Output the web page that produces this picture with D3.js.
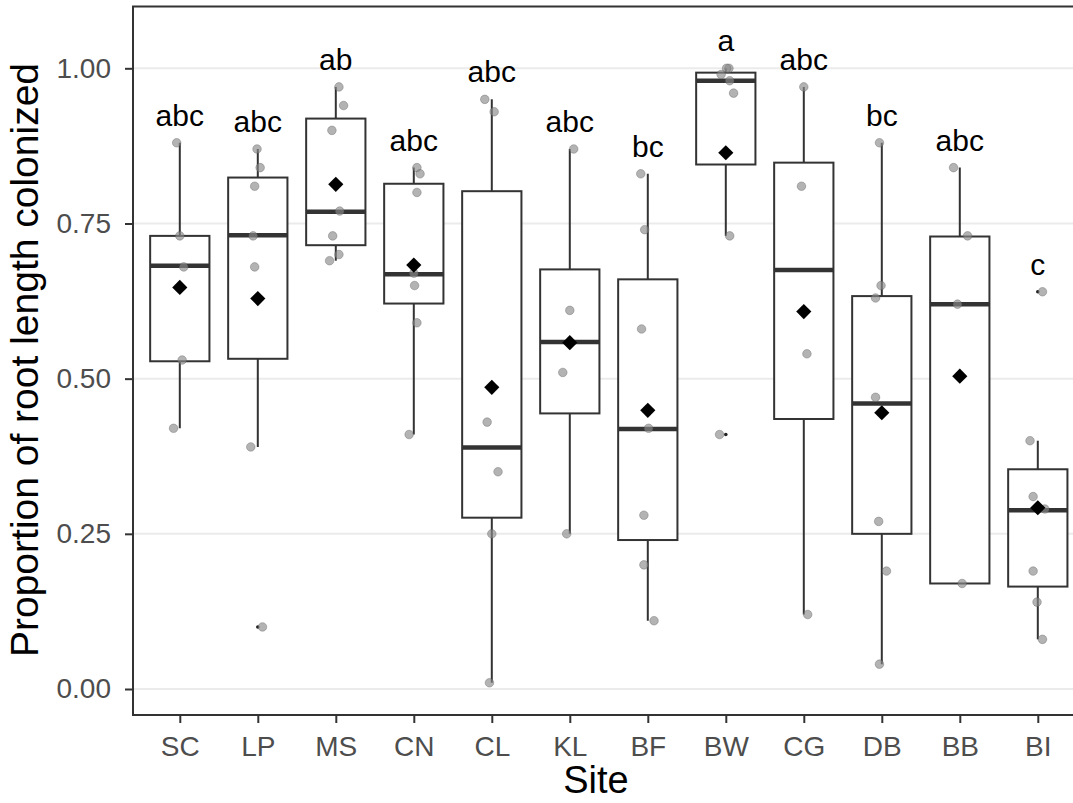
<!DOCTYPE html>
<html>
<head>
<meta charset="utf-8">
<script src="https://cdn.jsdelivr.net/npm/d3@7"></script>
<style>
  body { margin: 0; background: #fff; }
  svg { display: block; font-family: "Liberation Sans", Arial, sans-serif; }
  .tick text { fill: #4d4d4d; }
</style>
</head>
<body>
<div id="chart"></div>
<script>
// site order along the x axis
var sites = ["SC", "LP", "MS", "CN", "CL", "KL", "BF", "BW", "CG", "DB", "BB", "BI"];
var letters = ["abc", "abc", "ab", "abc", "abc", "abc", "bc", "a", "abc", "bc", "abc", "c"];

// box statistics
var q1     = [0.528, 0.532, 0.715, 0.621, 0.276, 0.444, 0.240, 0.845, 0.435, 0.250, 0.170, 0.165];
var median = [0.682, 0.731, 0.769, 0.668, 0.389, 0.559, 0.419, 0.980, 0.675, 0.460, 0.620, 0.288];
var q3     = [0.730, 0.824, 0.919, 0.814, 0.802, 0.676, 0.660, 0.993, 0.848, 0.633, 0.729, 0.354];
var whiskLo = [0.42, 0.39, 0.69, 0.41, 0.01, 0.25, 0.11, 0.73, 0.12, 0.04, 0.17, 0.08];
var whiskHi = [0.88, 0.87, 0.97, 0.84, 0.95, 0.87, 0.83, 1.00, 0.97, 0.88, 0.84, 0.40];
var means  = [0.647, 0.629, 0.813, 0.683, 0.486, 0.558, 0.449, 0.864, 0.608, 0.445, 0.504, 0.292];
var outliers = [[], [0.10], [], [], [], [], [], [0.41], [], [], [], [0.64]];

// raw observations per site
var obs = [
  [0.88, 0.73, 0.68, 0.53, 0.42],
  [0.87, 0.84, 0.81, 0.73, 0.68, 0.39, 0.10],
  [0.97, 0.94, 0.90, 0.77, 0.73, 0.70, 0.69],
  [0.84, 0.83, 0.80, 0.67, 0.65, 0.59, 0.41],
  [0.95, 0.93, 0.43, 0.35, 0.25, 0.01],
  [0.87, 0.61, 0.51, 0.25],
  [0.83, 0.74, 0.58, 0.42, 0.28, 0.20, 0.11],
  [1.00, 1.00, 0.99, 0.98, 0.96, 0.73, 0.41],
  [0.97, 0.81, 0.54, 0.12],
  [0.88, 0.65, 0.63, 0.47, 0.27, 0.19, 0.04],
  [0.84, 0.73, 0.62, 0.17],
  [0.64, 0.40, 0.31, 0.29, 0.19, 0.14, 0.08]
];
// horizontal jitter of each observation, in units of one site step
var jitter = [
  [-0.04, 0.00, 0.05, 0.03, -0.08],
  [-0.01, 0.03, -0.04, -0.06, -0.04, -0.09, 0.06],
  [0.04, 0.10, -0.05, 0.05, -0.04, 0.04, -0.08],
  [0.04, 0.08, 0.04, 0.00, 0.01, 0.04, -0.06],
  [-0.09, 0.03, -0.06, 0.08, 0.00, -0.03],
  [0.05, 0.00, -0.09, -0.04],
  [-0.09, -0.04, -0.08, 0.01, -0.05, -0.05, 0.08],
  [0.04, 0.01, -0.06, 0.05, 0.10, 0.05, -0.08],
  [0.00, -0.03, 0.04, 0.05],
  [-0.03, -0.01, -0.08, -0.08, -0.04, 0.06, -0.03],
  [-0.08, 0.10, -0.03, 0.03],
  [0.06, -0.10, -0.06, 0.09, -0.06, -0.01, 0.06]
];

var yTicks = [0, 0.25, 0.5, 0.75, 1];

var width = 1073, height = 803;
var panel = {left: 133, top: 6.5, right: 1084.6, bottom: 715};

var svg = d3.select("#chart").append("svg")
    .attr("width", width)
    .attr("height", height);

svg.append("rect").attr("width", width).attr("height", height).attr("fill", "#fff");

var x = d3.scalePoint()
    .domain(sites)
    .range([panel.left, panel.right])
    .padding(0.6);
var step = x.step();

var y = d3.scaleLinear()
    .domain([0, 1])
    .range([689, 68.3]);

// grid lines
svg.append("g")
    .selectAll("line")
    .data(yTicks)
    .enter().append("line")
    .attr("x1", panel.left).attr("x2", panel.right)
    .attr("y1", function(d) { return y(d); })
    .attr("y2", function(d) { return y(d); })
    .attr("stroke", "#ebebeb")
    .attr("stroke-width", 2);

var boxW = step * 0.76;
var boxes = svg.append("g").selectAll("g")
    .data(sites)
    .enter().append("g");

// whiskers
boxes.append("line")
    .attr("x1", function(d) { return x(d); })
    .attr("x2", function(d) { return x(d); })
    .attr("y1", function(d, i) { return y(whiskHi[i]); })
    .attr("y2", function(d, i) { return y(whiskLo[i]); })
    .attr("stroke", "#333")
    .attr("stroke-width", 2);

boxes.append("rect")
    .attr("x", function(d) { return x(d) - boxW / 2; })
    .attr("width", boxW)
    .attr("y", function(d, i) { return y(q3[i]); })
    .attr("height", function(d, i) { return y(q1[i]) - y(q3[i]); })
    .attr("fill", "#fff")
    .attr("stroke", "#333")
    .attr("stroke-width", 2);

boxes.append("line")
    .attr("x1", function(d) { return x(d) - boxW / 2; })
    .attr("x2", function(d) { return x(d) + boxW / 2; })
    .attr("y1", function(d, i) { return y(median[i]); })
    .attr("y2", function(d, i) { return y(median[i]); })
    .attr("stroke", "#333")
    .attr("stroke-width", 4.5);

// boxplot outliers (small, mostly hidden under the jittered points)
boxes.selectAll(".out")
    .data(function(d, i) { return outliers[i].map(function(v) { return {site: d, v: v}; }); })
    .enter().append("circle")
    .attr("class", "out")
    .attr("cx", function(d) { return x(d.site); })
    .attr("cy", function(d) { return y(d.v); })
    .attr("r", 1.8)
    .attr("fill", "#222");

// jittered observations
var pts = [];
sites.forEach(function(s, i) {
    obs[i].forEach(function(v, j) {
        pts.push({site: s, v: v, jit: jitter[i][j]});
    });
});

svg.append("g")
    .selectAll("circle")
    .data(pts)
    .enter().append("circle")
    .attr("cx", function(d) { return x(d.site) + d.jit * step; })
    .attr("cy", function(d) { return y(d.v); })
    .attr("r", 4.3)
    .attr("fill", "#8a8a8a")
    .attr("fill-opacity", 0.65)
    .attr("stroke", "#555")
    .attr("stroke-opacity", 0.35)
    .attr("stroke-width", 1);

// means
var diamond = d3.symbol().type(d3.symbolSquare).size(115);
svg.append("g")
    .selectAll("path")
    .data(sites)
    .enter().append("path")
    .attr("d", diamond)
    .attr("transform", function(d, i) { return "translate(" + x(d) + "," + y(means[i]) + ") rotate(45)"; })
    .attr("fill", "#000");

// significance letters above each site
svg.append("g")
    .selectAll("text")
    .data(sites)
    .enter().append("text")
    .attr("x", function(d) { return x(d); })
    .attr("y", function(d, i) {
        var top = d3.max([whiskHi[i]].concat(outliers[i]));
        return y(top) - 27.5;
    })
    .attr("dy", "0.35em")
    .attr("text-anchor", "middle")
    .attr("font-size", 30)
    .attr("fill", "#000")
    .text(function(d, i) { return letters[i]; });

// panel border
svg.append("rect")
    .attr("x", panel.left).attr("y", panel.top)
    .attr("width", panel.right - panel.left)
    .attr("height", panel.bottom - panel.top)
    .attr("fill", "none")
    .attr("stroke", "#333")
    .attr("stroke-width", 2);

// axes
var yAxis = svg.append("g")
    .attr("transform", "translate(" + panel.left + ",0)")
    .call(d3.axisLeft(y).tickValues(yTicks).tickFormat(d3.format(".2f")).tickSize(8).tickPadding(14));
yAxis.select(".domain").remove();
yAxis.selectAll(".tick line").attr("stroke", "#333").attr("stroke-width", 2);
yAxis.selectAll(".tick text").attr("font-size", 28).attr("font-family", null);

var xAxis = svg.append("g")
    .attr("transform", "translate(0," + panel.bottom + ")")
    .call(d3.axisBottom(x).tickSize(8).tickPadding(13));
xAxis.select(".domain").remove();
xAxis.selectAll(".tick line").attr("stroke", "#333").attr("stroke-width", 2);
xAxis.selectAll(".tick text").attr("font-size", 28).attr("font-family", null);

// axis titles
svg.append("text")
    .attr("transform", "translate(38,360) rotate(-90)")
    .attr("text-anchor", "middle")
    .attr("font-size", 39)
    .attr("fill", "#000")
    .text("Proportion of root length colonized");

svg.append("text")
    .attr("x", 596)
    .attr("y", 793)
    .attr("text-anchor", "middle")
    .attr("font-size", 38)
    .attr("fill", "#000")
    .text("Site");
</script>
</body>
</html>
